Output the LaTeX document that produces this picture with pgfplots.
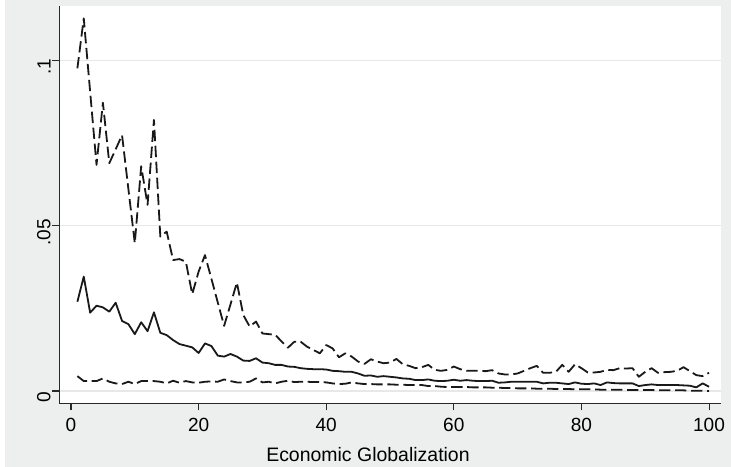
\documentclass[border=0pt]{standalone}
\usepackage{pgfplots}
\pgfplotsset{compat=1.18}
\usepackage{fontspec}
\setmainfont{Liberation Sans}
\definecolor{bg}{RGB}{236,239,238}
\definecolor{axiscol}{RGB}{40,40,40}
\definecolor{gridcol}{RGB}{232,232,232}
\definecolor{linecol}{RGB}{25,25,25}
\begin{document}
\begin{tikzpicture}[x=0.75pt,y=0.75pt]
\fill[white] (0,0) rectangle (731,467);
\fill[bg] (5,0) rectangle (731,467);
\begin{axis}[
  at={(59.3*0.75pt,63.7*0.75pt)}, anchor=south west,
  scale only axis, width=661.4*0.75pt, height=397.3*0.75pt,
  xmin=-1.834, xmax=101.83, ymin=-0.00372, ymax=0.11645,
  axis background/.style={fill=white},
  axis x line*=bottom, axis y line*=left,
  axis line style={-, draw=axiscol, line width=1.1pt},
  xtick={0,20,40,60,80,100}, xticklabels={0,20,40,60,80,100},
  ytick={0,0.05,0.1}, yticklabels={0,.05,.1},
  tick align=outside, major tick length=5.3pt,
  tick style={draw=axiscol, line width=0.8pt},
  xtick pos=bottom, ytick pos=left,
  ymajorgrids, grid style={draw=gridcol, line width=1pt},
  ticklabel style={font=\fontsize{14.3}{17}\selectfont, text=black},
  yticklabel style={rotate=90, anchor=south, inner sep=1pt, xshift=-5pt},
  xticklabel style={anchor=north, inner sep=1pt, yshift=-5pt},
  xlabel={Economic Globalization},
  xlabel style={font=\fontsize{14.6}{17}\selectfont, at={(axis description cs:0.4667,-0.147)}, anchor=base},
  clip=false,
]
\addplot[draw=linecol, line width=1.35pt, line join=round, dash pattern=on 8.5pt off 3.5pt] coordinates {
(1,0.0976)(2,0.1127)(3,0.0905)(4,0.0684)(5,0.0872)(6,0.0689)(7,0.0731)(8,0.0774)(9,0.0610)(10,0.0447)
(11,0.0680)(12,0.0563)(13,0.0820)(14,0.0467)(15,0.0482)(16,0.0396)(17,0.0399)(18,0.0391)(19,0.0293)(20,0.0361)
(21,0.0411)(22,0.0340)(23,0.0268)(24,0.0197)(25,0.0262)(26,0.0328)(27,0.0230)(28,0.0195)(29,0.0210)(30,0.0174)
(31,0.0172)(32,0.0170)(33,0.0150)(34,0.0131)(35,0.0149)(36,0.0149)(37,0.0134)(38,0.0124)(39,0.0114)(40,0.0139)
(41,0.0129)(42,0.0102)(43,0.0114)(44,0.0104)(45,0.0089)(46,0.0082)(47,0.0096)(48,0.0089)(49,0.0084)(50,0.0086)
(51,0.0097)(52,0.0081)(53,0.0076)(54,0.0069)(55,0.0072)(56,0.0079)(57,0.0064)(58,0.0061)(59,0.0064)(60,0.0074)
(61,0.0066)(62,0.0061)(63,0.0061)(64,0.0061)(65,0.0060)(66,0.0063)(67,0.0053)(68,0.0050)(69,0.0050)(70,0.0053)
(71,0.0061)(72,0.0069)(73,0.0076)(74,0.0055)(75,0.0055)(76,0.0058)(77,0.0079)(78,0.0058)(79,0.0081)(80,0.0069)
(81,0.0056)(82,0.0056)(83,0.0058)(84,0.0064)(85,0.0063)(86,0.0069)(87,0.0068)(88,0.0069)(89,0.0043)(90,0.0058)
(91,0.0069)(92,0.0055)(93,0.0057)(94,0.0058)(95,0.0061)(96,0.0072)(97,0.0060)(98,0.0048)(99,0.0045)(100,0.0055)
};
\addplot[draw=linecol, line width=1.35pt, line join=round, solid] coordinates {
(1,0.0270)(2,0.0346)(3,0.0237)(4,0.0258)(5,0.0253)(6,0.0240)(7,0.0267)(8,0.0212)(9,0.0202)(10,0.0172)
(11,0.0208)(12,0.0181)(13,0.0238)(14,0.0176)(15,0.0169)(16,0.0154)(17,0.0142)(18,0.0137)(19,0.0132)(20,0.0115)
(21,0.0144)(22,0.0136)(23,0.0107)(24,0.0104)(25,0.0112)(26,0.0104)(27,0.0092)(28,0.0091)(29,0.0099)(30,0.0086)
(31,0.0084)(32,0.0079)(33,0.0079)(34,0.0074)(35,0.0073)(36,0.0069)(37,0.0067)(38,0.0066)(39,0.0066)(40,0.0065)
(41,0.0061)(42,0.0060)(43,0.0058)(44,0.0058)(45,0.0053)(46,0.0046)(47,0.0047)(48,0.0043)(49,0.0045)(50,0.0043)
(51,0.0041)(52,0.0038)(53,0.0037)(54,0.0033)(55,0.0033)(56,0.0035)(57,0.0031)(58,0.0030)(59,0.0031)(60,0.0034)
(61,0.0031)(62,0.0033)(63,0.0031)(64,0.0030)(65,0.0030)(66,0.0031)(67,0.0025)(68,0.0026)(69,0.0028)(70,0.0028)
(71,0.0028)(72,0.0028)(73,0.0028)(74,0.0023)(75,0.0025)(76,0.0025)(77,0.0023)(78,0.0021)(79,0.0026)(80,0.0022)
(81,0.0021)(82,0.0023)(83,0.0018)(84,0.0026)(85,0.0024)(86,0.0023)(87,0.0023)(88,0.0023)(89,0.0015)(90,0.0018)
(91,0.0020)(92,0.0018)(93,0.0018)(94,0.0018)(95,0.0018)(96,0.0017)(97,0.0016)(98,0.0011)(99,0.0023)(100,0.0013)
};
\addplot[draw=linecol, line width=1.35pt, line join=round, dash pattern=on 8.5pt off 3.5pt] coordinates {
(1,0.0045)(2,0.0030)(3,0.0030)(4,0.0030)(5,0.0038)(6,0.0028)(7,0.0023)(8,0.0021)(9,0.0028)(10,0.0021)
(11,0.0030)(12,0.0030)(13,0.0030)(14,0.0028)(15,0.0023)(16,0.0031)(17,0.0025)(18,0.0030)(19,0.0026)(20,0.0025)
(21,0.0028)(22,0.0029)(23,0.0028)(24,0.0035)(25,0.0030)(26,0.0026)(27,0.0026)(28,0.0028)(29,0.0038)(30,0.0026)
(31,0.0028)(32,0.0023)(33,0.0028)(34,0.0031)(35,0.0027)(36,0.0028)(37,0.0028)(38,0.0027)(39,0.0027)(40,0.0026)
(41,0.0023)(42,0.0021)(43,0.0022)(44,0.0026)(45,0.0023)(46,0.0021)(47,0.0021)(48,0.0020)(49,0.0020)(50,0.0020)
(51,0.0019)(52,0.0019)(53,0.0018)(54,0.0018)(55,0.0018)(56,0.0015)(57,0.0015)(58,0.0013)(59,0.0012)(60,0.0012)
(61,0.0012)(62,0.0012)(63,0.0011)(64,0.0011)(65,0.0011)(66,0.0010)(67,0.0010)(68,0.0009)(69,0.0009)(70,0.0008)
(71,0.0008)(72,0.0008)(73,0.0007)(74,0.0007)(75,0.0007)(76,0.0006)(77,0.0006)(78,0.0006)(79,0.0005)(80,0.0005)
(81,0.0005)(82,0.0005)(83,0.0004)(84,0.0004)(85,0.0004)(86,0.0004)(87,0.0003)(88,0.0003)(89,0.0003)(90,0.0003)
(91,0.0003)(92,0.0002)(93,0.0002)(94,0.0002)(95,0.0002)(96,0.0002)(97,0.0001)(98,0.0001)(99,0.0001)(100,0.0000)
};
\end{axis}
\end{tikzpicture}
\end{document}
